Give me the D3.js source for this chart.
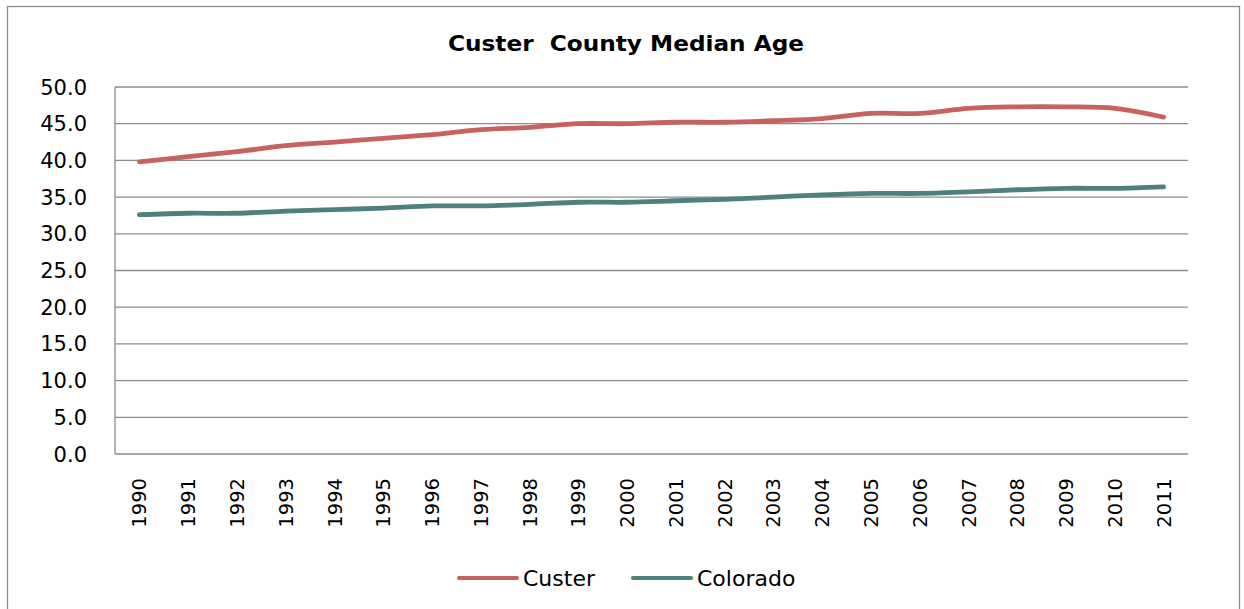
<!DOCTYPE html>
<html>
<head>
<meta charset="utf-8">
<script src="https://cdnjs.cloudflare.com/ajax/libs/d3/7.8.5/d3.min.js"></script>
<style>
    body { margin: 0; background: #fff; }
    text { font-family: "DejaVu Sans", Verdana, sans-serif; fill: #000; }
</style>
</head>
<body>
<svg class="Chart"></svg>
<script>
// values
let years = ["1990","1991","1992","1993","1994","1995","1996","1997","1998","1999","2000",
             "2001","2002","2003","2004","2005","2006","2007","2008","2009","2010","2011"];
let custer = [39.8, 40.5, 41.2, 42.0, 42.5, 43.0, 43.5, 44.2, 44.5, 45.0, 45.0,
              45.2, 45.2, 45.4, 45.7, 46.4, 46.4, 47.1, 47.3, 47.3, 47.1, 45.9];
let colorado = [32.6, 32.8, 32.8, 33.1, 33.3, 33.5, 33.8, 33.8, 34.0, 34.3, 34.3,
                34.5, 34.7, 35.0, 35.3, 35.5, 35.5, 35.7, 36.0, 36.2, 36.2, 36.4];
let seriesNames = ["Custer", "Colorado"];
let seriesColors = ["#C8625F", "#4E817D"];
let yTicks = d3.range(0, 50.1, 5);

function drawChart(){
    let W = 1244, H = 609;
    let margin = {top: 87, right: 56, bottom: 155, left: 115},
        width = W - margin.left - margin.right,
        height = H - margin.top - margin.bottom;

    let svg = d3.select(".Chart")
        .attr("width", W)
        .attr("height", H);

    // outer chart frame
    svg.append("rect")
        .attr("x", 7.5).attr("y", 6.5)
        .attr("width", 1232).attr("height", 620)
        .style("fill", "none")
        .style("stroke", "#8c8c8c")
        .style("stroke-width", 1.3);

    svg.append("text")
        .attr("x", 626)
        .attr("y", 51)
        .attr("text-anchor", "middle")
        .attr("font-size", 22)
        .attr("font-weight", "bold")
        .attr("textLength", 356)
        .attr("lengthAdjust", "spacingAndGlyphs")
        .style("white-space", "pre")
        .text("Custer  County Median Age");

    let g = svg.append("g")
        .attr("transform", "translate(" + margin.left + "," + margin.top + ")");

    let x = d3.scaleBand().domain(years).range([0, width]);
    let y = d3.scaleLinear().domain([0, 50]).range([height, 0]);

    // gridlines
    g.selectAll(".grid")
        .data(yTicks)
        .join("line")
        .attr("class", "grid")
        .attr("x1", 0)
        .attr("x2", width)
        .attr("y1", d => y(d))
        .attr("y2", d => y(d))
        .style("stroke", "#8c8c8c")
        .style("stroke-width", 1.3);

    g.append("line")
        .attr("x1", 0).attr("x2", 0)
        .attr("y1", 0).attr("y2", height)
        .style("stroke", "#8c8c8c")
        .style("stroke-width", 1.3);

    g.selectAll(".ylab")
        .data(yTicks)
        .join("text")
        .attr("class", "ylab")
        .attr("x", -28)
        .attr("y", d => y(d))
        .attr("dy", "0.36em")
        .attr("text-anchor", "end")
        .attr("font-size", 21)
        .text(d => d.toFixed(1));

    g.selectAll(".xlab")
        .data(years)
        .join("text")
        .attr("class", "xlab")
        .attr("transform", d => "translate(" + (x(d) + x.bandwidth() / 2) + "," + (height + 24) + ")rotate(-90)")
        .attr("dy", "0.36em")
        .attr("text-anchor", "end")
        .attr("font-size", 19.5)
        .text(d => d);

    let line = d3.line()
        .x((d, i) => x(years[i]) + x.bandwidth() / 2)
        .y(d => y(d))
        .curve(d3.curveCatmullRom.alpha(0.5));

    [custer, colorado].forEach(function(vals, k){
        g.append("path")
            .datum(vals)
            .attr("d", line)
            .style("fill", "none")
            .style("stroke", seriesColors[k])
            .style("stroke-width", 4.8)
            .style("stroke-linecap", "round")
            .style("stroke-linejoin", "round");
    });

    // legend
    let legendX = [459, 633];
    let lg = svg.selectAll(".legend")
        .data(seriesNames)
        .join("g")
        .attr("class", "legend")
        .attr("transform", (d, i) => "translate(" + legendX[i] + ",578)");
    lg.append("line")
        .attr("x1", 0).attr("x2", 58)
        .style("stroke", (d, i) => seriesColors[i])
        .style("stroke-width", 4.2)
        .style("stroke-linecap", "round");
    lg.append("text")
        .attr("x", 64)
        .attr("dy", "0.36em")
        .attr("font-size", 22)
        .text(d => d);
}

drawChart();
</script>
</body>
</html>
